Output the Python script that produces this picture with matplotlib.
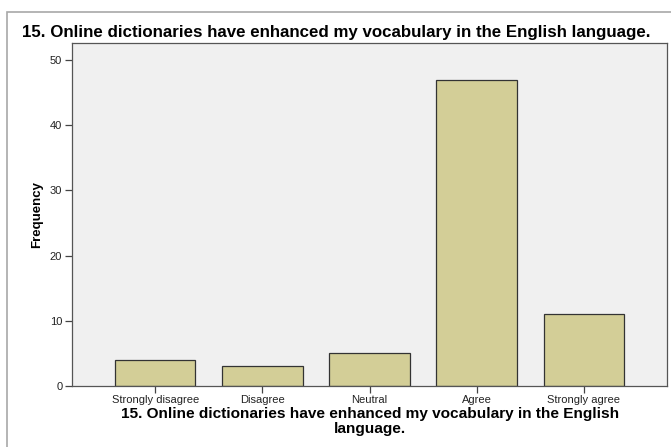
import matplotlib.pyplot as plt
import matplotlib.patches as patches

categories = ["Strongly disagree", "Disagree", "Neutral", "Agree", "Strongly agree"]
frequencies = [4, 3, 5, 47, 11]
yticks = [0, 10, 20, 30, 40, 50]
title = "15. Online dictionaries have enhanced my vocabulary in the English language."
xlabel = "15. Online dictionaries have enhanced my vocabulary in the English\nlanguage."

plt.rcParams['font.family'] = ['Liberation Sans', 'DejaVu Sans']

fig = plt.figure(figsize=(6.71, 4.47), dpi=100)
fig.patch.set_facecolor('white')

# outer frame of the output viewer
frame = patches.Rectangle((7 / 671, -0.1), 1.0, (447 - 12) / 447 + 0.1,
                          transform=fig.transFigure, fill=False,
                          edgecolor='#a8a8a8', linewidth=1.2)
fig.add_artist(frame)

ax = fig.add_axes([72 / 671, 1 - 386 / 447, (667 - 72) / 671, (386 - 43) / 447])
ax.set_facecolor('#f0f0f0')

x = range(len(categories))
ax.bar(x, frequencies, width=0.75, color='#d3ce97', edgecolor='#333333', linewidth=0.9)

ax.set_xlim(-0.776, 4.776)
ax.set_ylim(0, 52.6)
ax.set_xticks(list(x))
ax.set_xticklabels(categories, fontsize=8, color='#222222')
ax.set_yticks(yticks)
ax.set_yticklabels([str(t) for t in yticks], fontsize=8, color='#222222')
ax.tick_params(axis='both', direction='out', length=5, width=0.9, color='#444444', pad=2)
ax.tick_params(axis='x', pad=1.5)

for s in ax.spines.values():
    s.set_color('#555555')
    s.set_linewidth(0.9)

ax.set_ylabel("Frequency", fontsize=9.5, fontweight='bold', labelpad=5)

fig.text(370 / 671, 1 - 407 / 447, xlabel, fontsize=11.1, fontweight='bold',
         ha='center', va='top', linespacing=1.05)

fig.text(22 / 671, 1 - 33 / 447, title, fontsize=12.2, fontweight='bold', va='center', ha='left')

fig.savefig("out.png", dpi=100)
